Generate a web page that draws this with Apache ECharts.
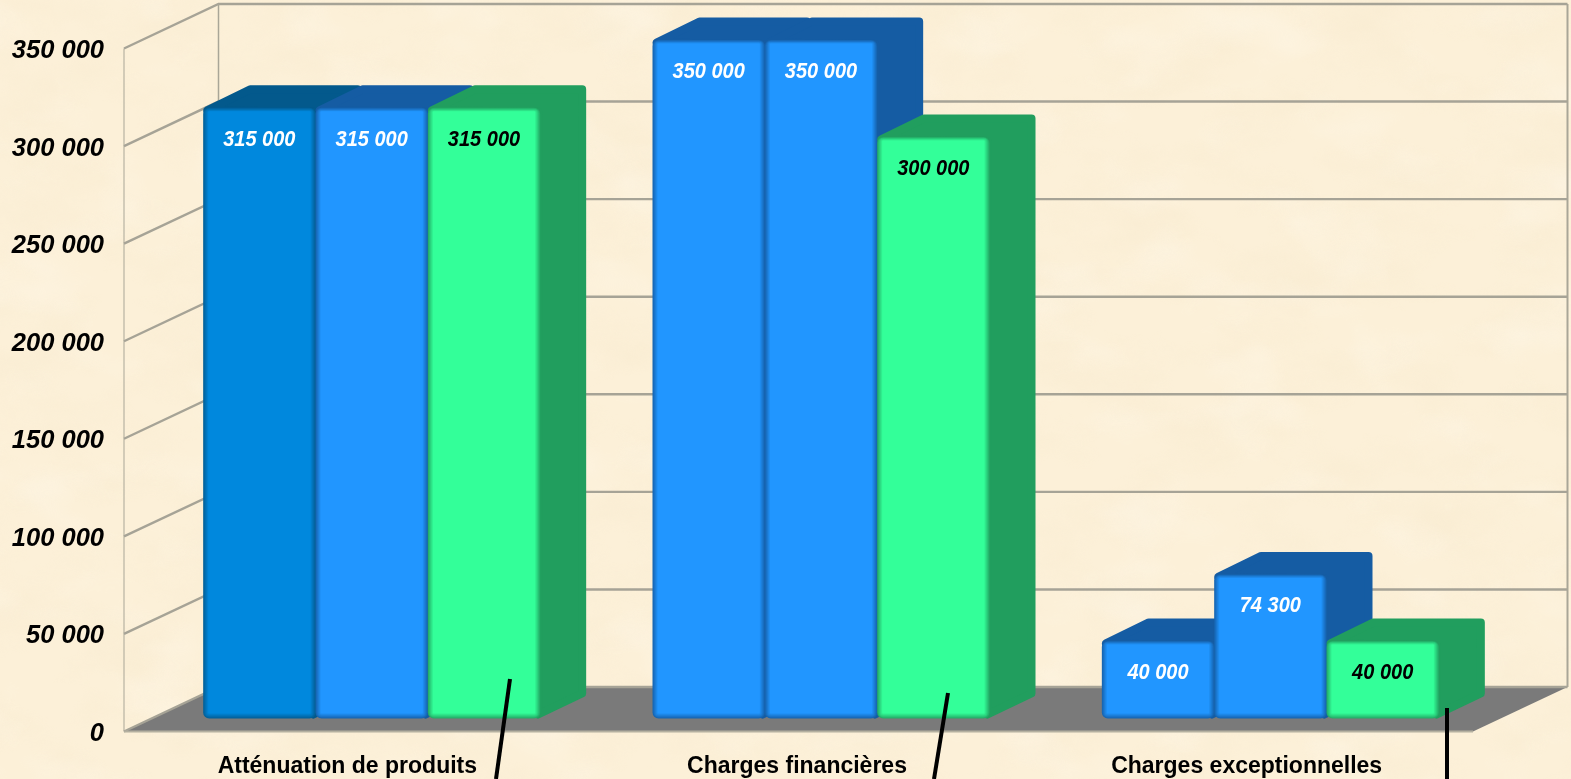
<!DOCTYPE html>
<html>
<head>
<meta charset="utf-8">
<title>Charges</title>
<script src="https://cdn.jsdelivr.net/npm/echarts@6/dist/echarts.min.js"></script>
<style>
html,body{margin:0;padding:0;width:100%;height:100%;overflow:hidden;background-color:#fcf0d8;}
#paper{position:absolute;left:0;top:0;width:1571px;height:779px;}
#main{position:absolute;left:0;top:0;width:1571px;height:779px;}
</style>
</head>
<body>
<svg id="paper" xmlns="http://www.w3.org/2000/svg">
  <filter id="mottle" x="0" y="0" width="100%" height="100%">
    <feTurbulence type="fractalNoise" baseFrequency="0.012 0.02" numOctaves="4" seed="7"/>
    <feColorMatrix type="matrix" values="0 0 0 0 0.93  0 0 0 0 0.82  0 0 0 0 0.62  1.5 0 0 0 -0.62"/>
  </filter>
  <filter id="pale" x="0" y="0" width="100%" height="100%">
    <feTurbulence type="fractalNoise" baseFrequency="0.01 0.016" numOctaves="3" seed="21"/>
    <feColorMatrix type="matrix" values="0 0 0 0 1  0 0 0 0 0.97  0 0 0 0 0.9  2.6 0 0 0 -1.35"/>
  </filter>
  <rect width="1571" height="779" filter="url(#mottle)" opacity="0.6"/>
  <rect width="1571" height="779" filter="url(#pale)" opacity="0.3"/>
</svg>
<div id="main"></div>
<script>
const categories = ['Atténuation de produits', 'Charges financières', 'Charges exceptionnelles'];
const serieA = [315000, 350000, 40000];
const serieB = [315000, 350000, 74300];
const serieC = [315000, 300000, 40000];
const yTicks = [0, 50000, 100000, 150000, 200000, 250000, 300000, 350000];

const blue = {face: [33, 150, 255], side: [21, 92, 163], text: '#ffffff'};
const darkBlue = {face: [0, 136, 221], side: [3, 89, 140], text: '#ffffff'};
const green = {face: [51, 255, 153], side: [33, 158, 94], text: '#000000'};

// wall depth, and depth of the bars themselves
const wallDx = 94.5, wallDy = -44.5;
const barDx = 46, barDy = -22.5;
const barRatio = 0.25;
const bevelSteps = 5;

function fmt(v) {
  return String(v).replace(/\B(?=(\d{3})+$)/g, ' ');
}

function rgb(c) {
  return 'rgb(' + c.join(',') + ')';
}

function mix(a, b, t) {
  return a.map(function (v, i) { return Math.round(v + (b[i] - v) * t); });
}

function renderWalls(params, api) {
  const x0 = params.coordSys.x, x1 = x0 + params.coordSys.width;
  const kids = [];
  const lineStyle = {stroke: '#a6a396', lineWidth: 2.4, fill: null};
  const yBase = api.coord([0, 0])[1];
  // floor
  kids.push({type: 'polygon', shape: {points: [[x0, yBase], [x1, yBase], [x1 + wallDx, yBase + wallDy], [x0 + wallDx, yBase + wallDy]]},
    style: {fill: '#7a7a7a'}});
  yTicks.forEach(function (t) {
    const y = api.coord([0, t])[1];
    kids.push({type: 'polyline', shape: {points: [[x0, y], [x0 + wallDx, y + wallDy], [x1 + wallDx, y + wallDy]]}, style: lineStyle});
  });
  kids.push({type: 'line', shape: {x1: x0, y1: yBase, x2: x1, y2: yBase}, style: {stroke: '#b4b0a0', lineWidth: 2}});
  const yTop = api.coord([0, 350000])[1];
  kids.push({type: 'line', shape: {x1: x0, y1: yTop, x2: x0, y2: yBase}, style: {stroke: '#a9a697', lineWidth: 1}});
  kids.push({type: 'line', shape: {x1: x0 + wallDx, y1: yTop + wallDy, x2: x0 + wallDx, y2: yBase + wallDy}, style: {stroke: '#a9a697', lineWidth: 1.5}});
  kids.push({type: 'line', shape: {x1: x1 + wallDx, y1: yTop + wallDy, x2: x1 + wallDx, y2: yBase + wallDy}, style: {stroke: '#a9a697', lineWidth: 2}});
  return {type: 'group', children: kids};
}

// slot: position of the bar inside its group (0,1,2)
function barRenderer(slot, colours) {
  return function (params, api) {
    const idx = api.value(0), val = api.value(1);
    const c = colours[idx];
    const band = api.size([1, 0])[0];
    const w = band * barRatio;
    const pt = api.coord([idx, val]);
    const base = api.coord([idx, 0])[1];
    const left = pt[0] - 1.5 * w + slot * w;
    const top = pt[1], right = left + w;
    const r = 4;
    const kids = [
      // top and side in one shape, rounded off with a thick round-joined stroke
      {type: 'polygon', shape: {points: [
        [left + 4, top + 2.5], [left + 47, top + barDy + r], [right + barDx - r, top + barDy + r],
        [right + barDx - r, base + barDy - 2.5], [right - 2, base - r], [right - 2, top + r]
      ]}, style: {fill: rgb(c.side), stroke: rgb(c.side), lineWidth: 2 * r, lineJoin: 'round'}}
    ];
    // soft edge of the front face: nested rects going from the side colour to the face colour
    for (let i = 0; i <= bevelSteps; i++) {
      kids.push({type: 'rect', shape: {x: left + i, y: top + i * 0.7, width: w - 2 * i, height: base - top - i * 1.7, r: Math.max(6 - i, 1)},
        style: {fill: rgb(mix(c.side, c.face, (i + 1) / (bevelSteps + 1)))}});
    }
    kids.push({type: 'text', x: left + w / 2, y: top + 31.8, scaleY: 1.12, style: {text: fmt(val), fill: c.text,
      font: 'italic bold 20px "Liberation Sans"', align: 'center', verticalAlign: 'middle'}});
    return {type: 'group', children: kids};
  };
}

function toData(arr) {
  return arr.map(function (v, i) { return [i, v]; });
}

const myChart = echarts.init(document.getElementById('main'));
myChart.setOption({
  animation: false,
  grid: [
    {left: 124, top: 48.5, width: 1349, height: 683},   // front plane of the walls
    {left: 147, top: 40, width: 1348, height: 678.5}    // plane of the bar faces
  ],
  xAxis: [
    {type: 'category', gridIndex: 0, data: categories, axisLine: {show: false}, axisTick: {show: false},
      axisLabel: {margin: 24, color: '#000', fontFamily: 'Liberation Sans', fontWeight: 'bold', fontSize: 23,
        formatter: function (v) { return '{c|' + v + '}'; },
        rich: {c: {fontFamily: 'Liberation Sans', fontWeight: 'bold', fontSize: 23, padding: [0, 3, 0, 0]}}}},
    {type: 'category', gridIndex: 1, data: categories, show: false}
  ],
  yAxis: [
    {type: 'value', gridIndex: 0, min: 0, max: 350000, interval: 50000, splitLine: {show: false}, axisLine: {show: false}, axisTick: {show: false},
      axisLabel: {margin: 20, color: '#000', fontFamily: 'Liberation Sans', fontWeight: 'bold', fontStyle: 'italic', fontSize: 25.5,
        formatter: function (v) { return '{v|' + fmt(v) + '}'; },
        rich: {v: {fontFamily: 'Liberation Sans', fontWeight: 'bold', fontStyle: 'italic', fontSize: 25.5, padding: [5, 0, 0, 0]}}}},
    {type: 'value', gridIndex: 1, min: 0, max: 350000, show: false}
  ],
  graphic: [
    // black leader lines
    {type: 'line', shape: {x1: 510, y1: 679, x2: 496, y2: 779}, style: {stroke: '#000', lineWidth: 4}, z: 100},
    {type: 'line', shape: {x1: 948, y1: 693, x2: 934, y2: 779}, style: {stroke: '#000', lineWidth: 4}, z: 100},
    {type: 'line', shape: {x1: 1447, y1: 708, x2: 1447, y2: 779}, style: {stroke: '#000', lineWidth: 4}, z: 100}
  ],
  series: [
    {type: 'custom', name: 'walls', xAxisIndex: 0, yAxisIndex: 0, data: [[0, 0]], renderItem: renderWalls, silent: true, clip: false},
    {type: 'custom', name: 'A', xAxisIndex: 1, yAxisIndex: 1, data: toData(serieA), renderItem: barRenderer(0, [darkBlue, blue, blue]), clip: false},
    {type: 'custom', name: 'B', xAxisIndex: 1, yAxisIndex: 1, data: toData(serieB), renderItem: barRenderer(1, [blue, blue, blue]), clip: false},
    {type: 'custom', name: 'C', xAxisIndex: 1, yAxisIndex: 1, data: toData(serieC), renderItem: barRenderer(2, [green, green, green]), clip: false}
  ]
});
</script>
</body>
</html>
